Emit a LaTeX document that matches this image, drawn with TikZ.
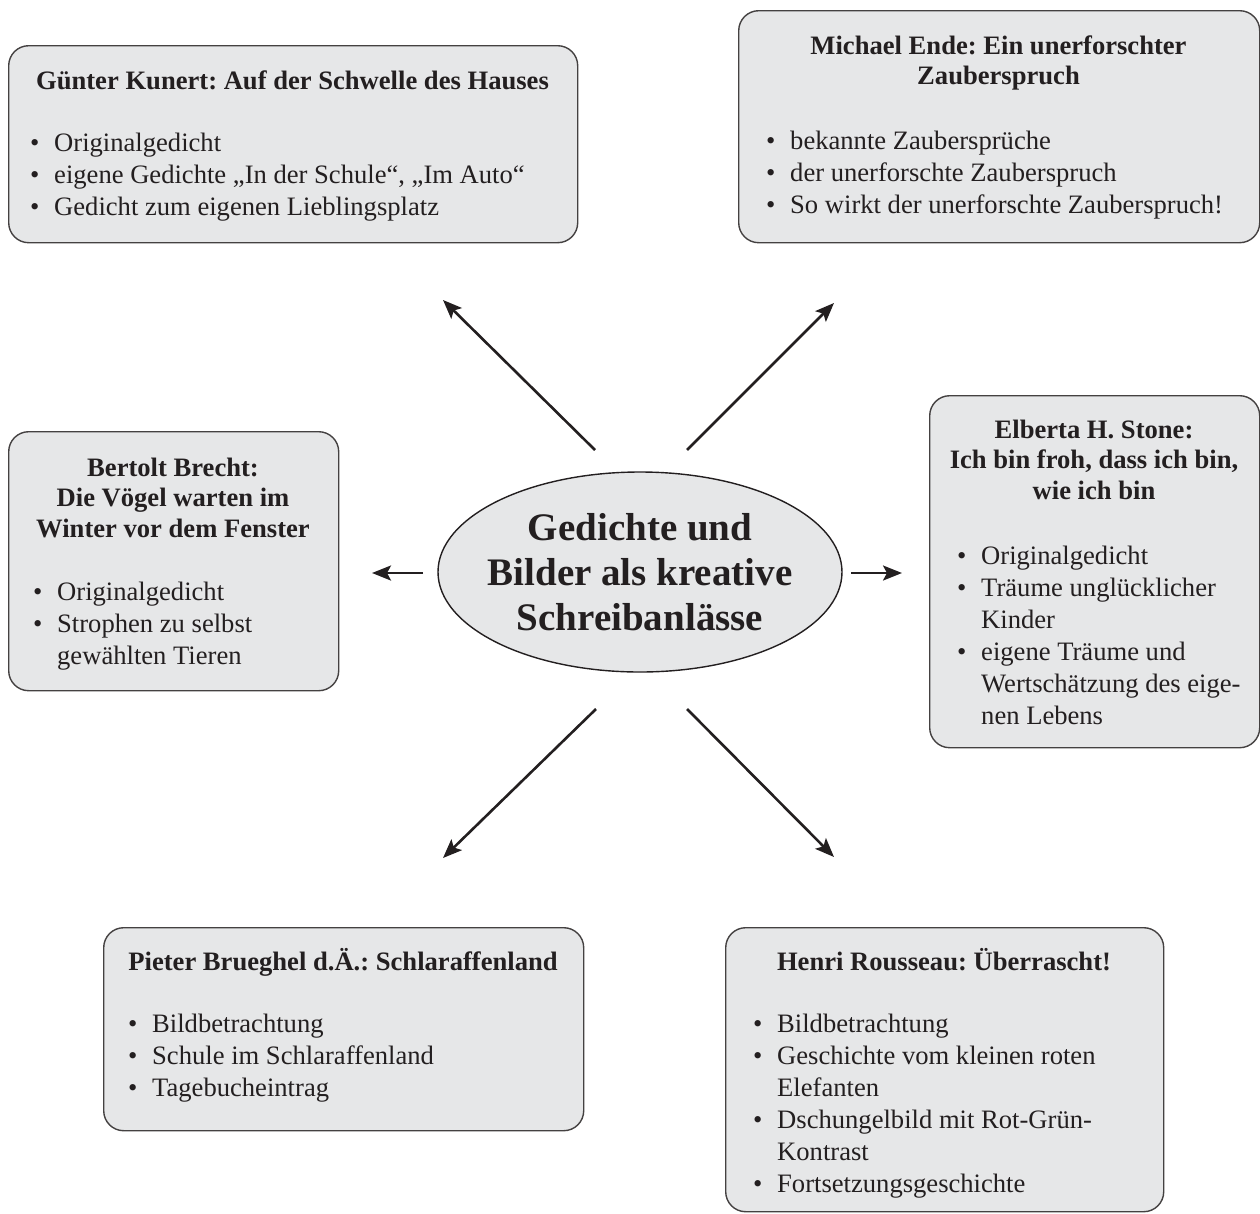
\documentclass[tikz,border=0pt]{standalone}
\usepackage{fontspec}
\setmainfont{Liberation Serif}
\usetikzlibrary{arrows.meta,shapes.geometric}
\definecolor{boxfill}{HTML}{E6E7E8}
\definecolor{ink}{HTML}{231F20}
\newcommand\myrule{\rule{0pt}{24pt}}
\newcommand\bul{\makebox[24pt][l]{\textbullet}}
\newcommand\cont{\hspace*{24pt}}
\frenchspacing
\begin{document}
\frenchspacing
\begin{tikzpicture}[x=1pt,y=-1pt,
  box/.style={draw=ink!85, line width=1.4pt, fill=boxfill, rounded corners=20pt, anchor=north west, inner sep=0pt},
  ttl/.style={anchor=north, inner sep=0pt, align=center, font=\fontsize{26.6}{30.5}\selectfont\bfseries\frenchspacing, text=ink},
  lst/.style={anchor=north west, inner sep=0pt, align=left, font=\fontsize{26.6}{32}\selectfont\frenchspacing, text=ink},
  arr/.style={line width=2.6pt, draw=ink, -{Stealth[length=19pt,width=15pt,inset=4pt]}}
]
\useasboundingbox (0,0) rectangle (1260,1213);

% boxes
\node[box, minimum width=569pt, minimum height=197pt] (b1) at (8,45) {};
\node[box, minimum width=521pt, minimum height=232pt] (b2) at (738,10) {};
\node[box, minimum width=330pt, minimum height=259pt] (b3) at (8,431) {};
\node[box, minimum width=330pt, minimum height=352pt] (b4) at (929,395) {};
\node[box, minimum width=480pt, minimum height=203pt] (b5) at (103,927) {};
\node[box, minimum width=438pt, minimum height=284pt] (b6) at (725,927) {};

% titles
\node[ttl] (t1) at (292.5,65) {\myrule Günter Kunert: Auf der Schwelle des Hauses};
\node[ttl] (t2) at (998.5,30) {\myrule Michael Ende: Ein unerforschter\\Zauberspruch};
\node[ttl] (t3) at (173,452) {\myrule Bertolt Brecht:\\Die Vögel warten im\\Winter vor dem Fenster};
\node[ttl] (t4) at (1094,414) {\myrule Elberta H. Stone:\\Ich bin froh, dass ich bin,\\wie ich bin};
\node[ttl] (t5) at (343,946) {\myrule Pieter Brueghel d.Ä.: Schlaraffenland};
\node[ttl] (t6) at (944,946) {\myrule Henri Rousseau: Überrascht!};

% lists
\node[lst] (l1) at (30,127) {\myrule\bul Originalgedicht\\\bul eigene Gedichte „In der Schule“, „Im Auto“\\\bul Gedicht zum eigenen Lieblingsplatz};
\node[lst] (l2) at (766,125) {\myrule\bul bekannte Zaubersprüche\\\bul der unerforschte Zauberspruch\\\bul So wirkt der unerforschte Zauberspruch!};
\node[lst] (l3) at (33,576) {\myrule\bul Originalgedicht\\\bul Strophen zu selbst\\\cont gewählten Tieren};
\node[lst] (l4) at (957,540) {\myrule\bul Originalgedicht\\\bul Träume unglücklicher\\\cont Kinder\\\bul eigene Träume und\\\cont Wertschätzung des eige-\\\cont nen Lebens};
\node[lst] (l5) at (128,1008) {\myrule\bul Bildbetrachtung\\\bul Schule im Schlaraffenland\\\bul Tagebucheintrag};
\node[lst] (l6) at (753,1008) {\myrule\bul Bildbetrachtung\\\bul Geschichte vom kleinen roten\\\cont Elefanten\\\bul Dschungelbild mit Rot-Grün-\\\cont Kontrast\\\bul Fortsetzungsgeschichte};

% centre
\node[ellipse, draw=ink, line width=1.4pt, fill=boxfill, minimum width=404pt, minimum height=200pt, inner sep=0pt] (c) at (640,572) {};
\node[anchor=north, inner sep=0pt, align=center, text=ink, font=\fontsize{39}{45}\selectfont\bfseries] (ct) at (640,512) {\rule{0pt}{28pt}Gedichte und\\Bilder als kreative\\Schreibanlässe};

% arrows
\coordinate (a1s) at (595,450); \coordinate (a1e) at (443,300);
\coordinate (a2s) at (687,450); \coordinate (a2e) at (834,303);
\coordinate (a3s) at (423,573); \coordinate (a3e) at (372,573);
\coordinate (a4s) at (851,573); \coordinate (a4e) at (902,573);
\coordinate (a5s) at (596,709); \coordinate (a5e) at (443,858);
\coordinate (a6s) at (687,709); \coordinate (a6e) at (834,857);
\draw[arr] (a1s) -- (a1e);
\draw[arr] (a2s) -- (a2e);
\draw[arr] (a3s) -- (a3e);
\draw[arr] (a4s) -- (a4e);
\draw[arr] (a5s) -- (a5e);
\draw[arr] (a6s) -- (a6e);
\end{tikzpicture}
\end{document}
